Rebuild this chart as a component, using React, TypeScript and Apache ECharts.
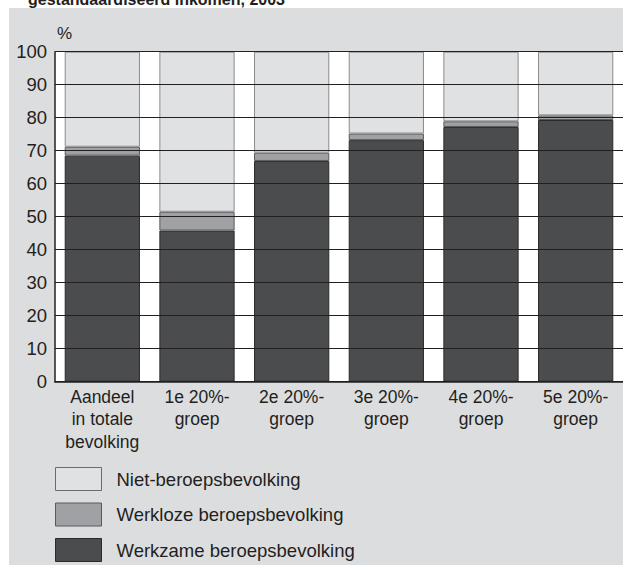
import React, { useEffect, useRef } from "react";
import * as echarts from "echarts";

const categories = [
  "Aandeel\nin totale\nbevolking",
  "1e 20%-\ngroep",
  "2e 20%-\ngroep",
  "3e 20%-\ngroep",
  "4e 20%-\ngroep",
  "5e 20%-\ngroep",
];
const werkzaam = [68.5, 45.8, 66.9, 73.2, 77.2, 79.3];
const werkloos = [2.7, 5.7, 2.5, 2.0, 1.7, 1.4];
const nietBeroeps = [28.8, 48.5, 30.6, 24.8, 21.1, 19.3];
const seriesNames = [
  "Werkzame beroepsbevolking",
  "Werkloze beroepsbevolking",
  "Niet-beroepsbevolking",
];
const titleText = "gestandaardiseerd inkomen, 2003";

const FONT = "'Liberation Sans', Arial, Helvetica, sans-serif";
const TXT = "#231f20";
const DARK = "#4b4c4e";
const MID = "#a0a1a4";
const LIGHT = "#e0e1e3";

export default function App() {
  const ref = useRef<HTMLDivElement>(null);
  useEffect(() => {
    if (!ref.current) return;
    const chart = echarts.init(ref.current, undefined, { renderer: "svg" });
    const styles = [
      { color: DARK, borderColor: "#2a2a2b", borderWidth: 1 },
      { color: MID, borderColor: "#5a5a5c", borderWidth: 1 },
      { color: LIGHT, borderColor: "#8a8b8d", borderWidth: 1 },
    ];
    const datas = [werkzaam, werkloos, nietBeroeps];
    chart.setOption({
      animation: false,
      backgroundColor: "#ffffff",
      textStyle: { fontFamily: FONT },
      graphic: [
        {
          type: "text",
          x: 28,
          y: 7,
          z: 0,
          style: {
            text: titleText,
            font: `bold 16px ${FONT}`,
            fill: TXT,
            verticalAlign: "bottom",
          },
        },
        {
          type: "rect",
          z: 0,
          shape: { x: 9, y: 8, width: 620, height: 560 },
          style: { fill: "#dcdddf" },
        },
        {
          type: "text",
          x: 57,
          y: 33,
          z: 5,
          style: {
            text: "%",
            font: `17px ${FONT}`,
            fill: TXT,
            verticalAlign: "middle",
          },
        },
      ],
      grid: {
        left: 55,
        top: 51.7,
        width: 568,
        height: 330,
        show: true,
        backgroundColor: "#ffffff",
        borderWidth: 0,
        z: 1,
      },
      legend: {
        orient: "vertical",
        left: 55,
        top: 467,
        padding: 0,
        itemWidth: 46,
        itemHeight: 23,
        itemGap: 11.5,
        icon: "rect",
        textStyle: {
          fontFamily: FONT,
          fontSize: 18.5,
          color: TXT,
          padding: [2, 0, 0, 10],
        },
        data: [
          { name: seriesNames[2], itemStyle: { color: LIGHT, borderColor: "#6a6b6d", borderWidth: 1 } },
          { name: seriesNames[1], itemStyle: { color: MID, borderColor: "#5a5a5c", borderWidth: 1 } },
          { name: seriesNames[0], itemStyle: { color: DARK, borderColor: "#2a2a2b", borderWidth: 1 } },
        ],
      },
      xAxis: {
        type: "category",
        data: categories,
        axisLine: { show: true, lineStyle: { color: TXT, width: 1.5 } },
        axisTick: { show: false },
        axisLabel: {
          fontFamily: FONT,
          fontSize: 17.5,
          color: TXT,
          lineHeight: 22.5,
          margin: 4,
          interval: 0,
        },
        z: 10,
      },
      yAxis: {
        type: "value",
        min: 0,
        max: 100,
        interval: 10,
        axisLine: { show: true, lineStyle: { color: TXT, width: 1.5 } },
        axisTick: { show: false },
        axisLabel: {
          fontFamily: FONT,
          fontSize: 18.5,
          color: TXT,
          margin: 8,
        },
        splitLine: { show: true, lineStyle: { color: TXT, width: 1 } },
        z: 10,
      },
      series: datas.map((d, i) => ({
        name: seriesNames[i],
        type: "bar",
        stack: "total",
        data: d,
        barCategoryGap: "20.5%",
        itemStyle: styles[i],
        z: 3,
      })),
    });
    return () => chart.dispose();
  }, []);
  return (
    <div
      ref={ref}
      style={{ position: "fixed", left: 0, top: 0, width: 623, height: 565 }}
    />
  );
}
